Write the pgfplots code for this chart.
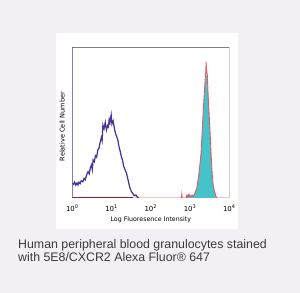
\documentclass[border=0pt]{standalone}
\usepackage{pgfplots}
\pgfplotsset{compat=1.18}
\usepackage{fontspec}
\setmainfont{Liberation Sans}
\newfontfamily\dejavu{DejaVu Sans}
\definecolor{bgc}{HTML}{F2F0F5}
\definecolor{purp}{HTML}{4A3496}
\definecolor{cyanf}{HTML}{45C2CA}
\definecolor{redl}{HTML}{E8444A}
\definecolor{darkred}{HTML}{8A2030}
\definecolor{captc}{HTML}{3A3A3A}
\definecolor{boxg}{HTML}{7F7F7F}
\begin{document}
\begin{tikzpicture}[x=1bp,y=1bp]
\fill[bgc] (0,0) rectangle (300,293);
\fill[white] (56,64) rectangle (238,260);
\begin{axis}[
  at={(72.3bp,95bp)}, anchor=south west,
  scale only axis, width=157bp, height=151bp,
  xmin=0, xmax=4, ymin=0, ymax=100,
  axis line style={draw=none},
  xtick={0,1,2,3,4},
  xticklabels={10\textsuperscript{0},10\textsuperscript{1},10\textsuperscript{2},10\textsuperscript{3},10\textsuperscript{4}},
  ytick=\empty,
  major tick length=0pt,
  tick label style={font=\dejavu\fontsize{7}{8}\selectfont, text=black},
  xticklabel style={yshift=-3.5bp},
  xlabel={Log Fluoresence Intensity},
  xlabel style={font=\dejavu\fontsize{6.3}{7}\selectfont, yshift=2bp},
  ylabel={Relative Cell Number},
  ylabel style={font=\dejavu\fontsize{6.6}{7}\selectfont, yshift=4bp, xshift=-4bp},
  clip=true,
]
% red histogram (filled cyan)
\addplot[fill=cyanf, draw=none] coordinates {
(2.78,0)(2.79,2.5)(2.8,0)(2.9,0)(2.92,2)(2.94,0.5)(2.97,2.5)(3.0,1)(3.05,2)(3.08,1)(3.12,3)(3.17,6)(3.21,12)(3.25,21)(3.28,29)(3.30,38)(3.32,48)(3.34,57)(3.36,66)(3.38,74)(3.40,81)(3.41,84)(3.42,82)(3.44,78)(3.455,70)(3.47,62)(3.49,53)(3.51,43)(3.53,32)(3.55,21)(3.57,13)(3.59,8)(3.62,4.5)(3.65,2)(3.68,0)} -- cycle;
\addplot[redl, line width=0.9pt, opacity=0.85] coordinates {
(0,0)(2.78,0)(2.79,2.5)(2.8,0)(2.9,0)(2.92,2)(2.94,0.5)(2.97,2.5)(3.0,1)(3.05,2)(3.08,1)(3.12,3)(3.17,6.6)(3.21,13)(3.25,21.9)(3.28,30)(3.30,39.7)(3.32,50)(3.34,59.6)(3.36,68)(3.38,77)(3.40,84)(3.41,90)(3.42,85)(3.44,81.5)(3.455,72)(3.47,63.8)(3.49,54)(3.51,43.9)(3.53,33)(3.55,21.9)(3.57,14)(3.59,8.6)(3.62,5)(3.65,2)(3.68,0)(4,0)};
\addplot[darkred, line width=1pt] coordinates {(0,0.3)(1.55,0.3)};
% purple histogram
\addplot[purp, line width=1.25pt] coordinates {
(0,10)(0.03,9)(0.06,10.5)(0.09,8.5)(0.12,10)(0.145,8.6)(0.17,10.5)(0.2,9.5)(0.23,11.5)(0.27,10.8)(0.3,13)(0.33,12)(0.36,15)(0.40,17.4)(0.43,16)(0.46,20)(0.49,22)(0.51,19)(0.53,25.2)(0.56,24)(0.59,28)(0.62,27)(0.65,31.8)(0.68,33)(0.71,37)(0.74,40)(0.76,38)(0.78,48.3)(0.81,46)(0.84,50)(0.87,45)(0.90,48)(0.92,47.2)(0.94,52)(0.96,50)(0.99,55)(1.01,49)(1.04,51)(1.08,45)(1.11,42)(1.14,40)(1.16,38.4)(1.19,34)(1.22,31)(1.25,27.4)(1.28,25)(1.31,21)(1.34,19)(1.38,16.6)(1.42,12)(1.46,7.5)(1.50,4.5)(1.55,2.6)(1.58,1.5)(1.62,2)(1.67,0.2)(1.7,0)};
\draw[boxg, line width=0.8pt] (rel axis cs:0,1) -- (rel axis cs:1,1) -- (rel axis cs:1,0);
\draw[purp, line width=1pt] (rel axis cs:0.39,0) -- (rel axis cs:1,0);
\draw[purp, line width=1.6pt] (rel axis cs:0,0) -- (rel axis cs:0,1);
\end{axis}
\node[anchor=base west, inner sep=0pt, text=captc, font=\fontsize{12.4}{14}\selectfont] at (18,45) {Human peripheral blood granulocytes stained};
\node[anchor=base west, inner sep=0pt, text=captc, font=\fontsize{12.4}{14}\selectfont] at (18,32) {with 5E8/CXCR2 Alexa Fluor® 647};
\pgfresetboundingbox
\useasboundingbox (0,0) rectangle (300,293);
\end{tikzpicture}
\end{document}
